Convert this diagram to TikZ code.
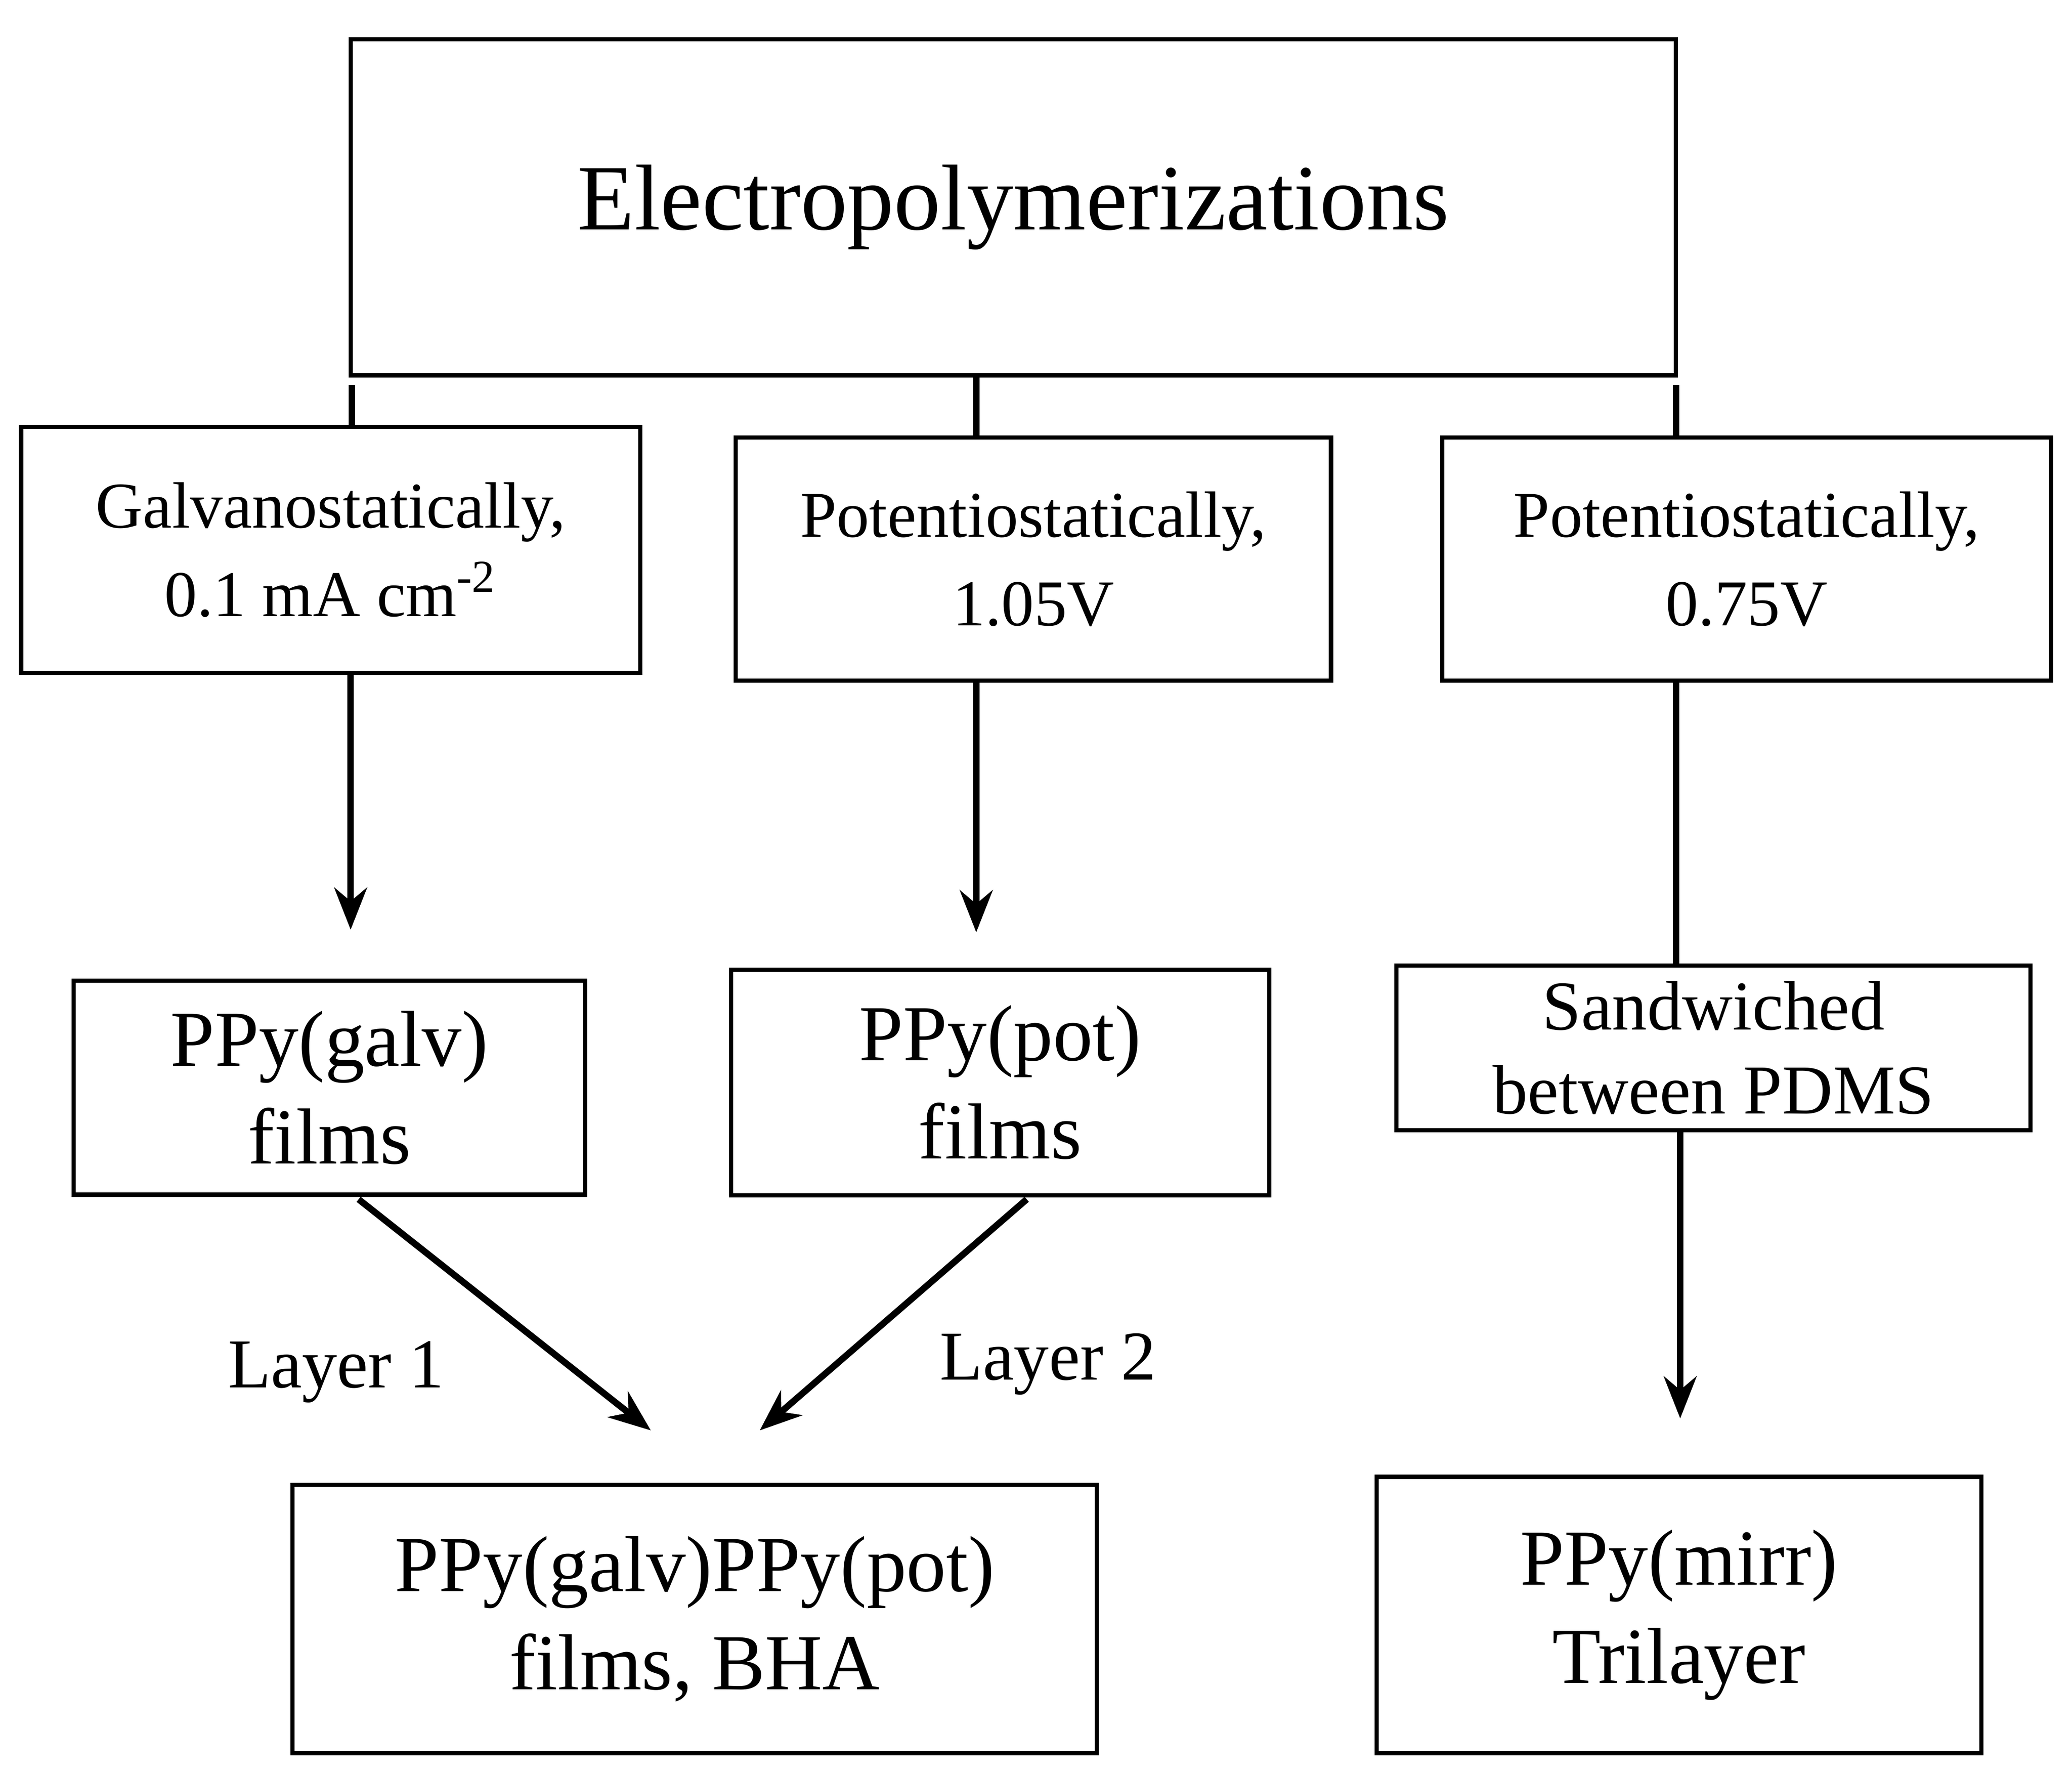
\documentclass[tikz,border=0pt]{standalone}
\usepackage{fontspec}
\setmainfont{Liberation Serif}
\usetikzlibrary{arrows.meta}

\tikzset{
  box/.style={draw, line width=0.9pt, align=center, inner sep=0pt},
  link/.style={line width=1.4pt},
  arr/.style={line width=1.4pt, -{Stealth[length=9pt,width=7pt]}}
}

\begin{document}
\begin{tikzpicture}[x=0.01cm,y=-0.01cm]
\useasboundingbox (0,0) rectangle (1560,1337);

\node[box, minimum width=997\pgflinewidth, minimum width=9.97cm, minimum height=2.53cm, font=\fontsize{20}{24}\selectfont] (elec) at (763,156) {Electropolymerizations};

\node[box, minimum width=4.66cm, minimum height=1.85cm, font=\fontsize{14}{19}\selectfont] (galv) at (249,414) {Galvanostatically,\\0.1 mA cm\textsuperscript{-2}};
\node[box, minimum width=4.48cm, minimum height=1.83cm, font=\fontsize{14}{19}\selectfont] (pot) at (778,421) {Potentiostatically,\\1.05V};
\node[box, minimum width=4.58cm, minimum height=1.83cm, font=\fontsize{14}{19}\selectfont] (mirr) at (1315,421) {Potentiostatically,\\0.75V};

\node[box, minimum width=3.85cm, minimum height=1.61cm, font=\fontsize{17}{21}\selectfont] (galvfilm) at (248,819) {PPy(galv)\\films};
\node[box, minimum width=4.05cm, minimum height=1.70cm, font=\fontsize{17}{21}\selectfont] (potfilm) at (753,815) {PPy(pot)\\films};
\node[box, minimum width=4.77cm, minimum height=1.24cm, font=\fontsize{15}{18}\selectfont] (pdms) at (1290,789) {Sandwiched\\between PDMS};

\node[box, minimum width=6.05cm, minimum height=2.02cm, font=\fontsize{17}{21}\selectfont] (bha) at (523,1219) {PPy(galv)PPy(pot)\\films, BHA};
\node[box, minimum width=4.55cm, minimum height=2.08cm, font=\fontsize{17}{21}\selectfont] (tri) at (1264,1216) {PPy(mirr)\\Trilayer};

\coordinate (g0) at (265,290);
\coordinate (p0) at (735,283);
\coordinate (m0) at (1262,290);
\draw[link] (g0) -- (galv.north -| g0);
\draw[link] (p0) -- (pot.north -| p0);
\draw[link] (m0) -- (mirr.north -| m0);

\coordinate (ga) at (264,700);
\coordinate (pa) at (735,702);
\coordinate (ma) at (1265,1068);
\draw[arr] (galv.south -| ga) -- (ga);
\draw[arr] (pot.south -| pa) -- (pa);
\draw[link] (mirr.south -| m0) -- (pdms.north -| m0);
\draw[arr] (pdms.south -| ma) -- (ma);

\coordinate (l1) at (490,1077);
\coordinate (l2) at (572,1077);
\draw[arr] (270,903) -- (l1);
\draw[arr] (773,903) -- (l2);

\node[font=\fontsize{15}{18}\selectfont] (lay1) at (253,1033) {Layer 1};
\node[font=\fontsize{15}{18}\selectfont] (lay2) at (789,1027) {Layer 2};
\end{tikzpicture}
\end{document}
